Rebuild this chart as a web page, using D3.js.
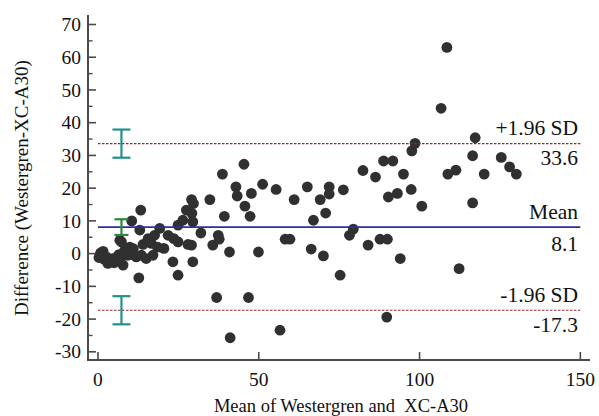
<!DOCTYPE html>
<html>
<head>
<meta charset="utf-8">
<script src="https://cdn.jsdelivr.net/npm/d3@7"></script>
<style>
  html, body { margin: 0; padding: 0; background: #fff; }
  svg { display: block; }
  text { font-family: "Liberation Serif", "Times New Roman", serif; fill: #111; }
</style>
</head>
<body>
<svg id="chart" width="599" height="416"></svg>
<script>
// ---- data ----
const meanValues = [0.8,1.6,1.0,2.6,3.1,3.5,4.1,5.0,5.7,6.5,7.3,7.8,8.3,9.3,9.9,7.3,6.8,10.9,11.9,13.5,15.0,17.1,12.7,10.5,13.3,13.0,14.0,15.6,16.6,17.6,19.2,20.5,21.8,23.3,23.6,24.9,24.9,24.9,26.4,27.5,28.0,29.1,29.7,29.2,29.5,29.5,29.1,32.0,34.8,35.7,36.9,37.4,37.7,38.7,39.3,40.9,41.1,42.9,43.3,45.4,45.7,46.8,47.3,47.7,49.9,51.2,55.4,56.6,58.2,59.7,61.0,65.1,66.3,67.0,69.1,70.1,70.8,71.9,71.9,75.3,76.3,78.2,79.4,82.4,84.0,86.3,87.7,88.8,89.8,90.0,90.3,91.7,93.1,94.0,95.0,97.4,97.6,98.6,100.7,106.7,108.5,108.8,111.3,112.3,116.5,116.5,117.3,120.1,125.4,128.0,130.1,2.0,4.5,0.3,11.0,18.5];
const diffValues = [0.2,0.7,-0.5,-1.0,-3.0,-2.5,-2.0,-2.8,-1.3,-0.3,-1.0,-3.5,1.0,-0.5,2.0,3.6,4.1,-0.3,-1.0,-0.5,-1.5,-0.5,-7.4,10.0,13.3,7.2,2.8,4.6,3.1,5.6,7.7,1.6,5.6,-2.5,4.6,3.6,-6.6,8.7,10.2,13.3,2.8,16.5,15.3,12.3,9.7,-2.5,2.6,6.3,16.5,2.6,-13.4,5.6,4.4,24.3,11.4,0.5,-25.7,20.4,17.6,27.3,14.5,-13.4,11.4,18.4,0.5,21.2,19.6,-23.4,4.4,4.4,16.5,20.4,1.4,10.2,16.5,-0.7,12.4,20.4,18.2,-6.6,19.5,5.6,7.5,25.4,2.6,23.4,4.4,28.3,-19.4,4.4,17.3,28.3,18.4,-1.5,24.3,19.6,31.4,33.7,14.5,44.4,63.0,24.3,25.5,-4.6,29.9,15.5,35.4,24.3,29.4,26.5,24.3,-1.8,-1.5,-1.2,1.5,2.0];

const meanDiff = 8.1;
const upperLoA = 33.6;
const lowerLoA = -17.3;
const ciX = 7.3;
const upperCI = [29.3, 37.9];
const meanCI = [5.7, 10.5];
const lowerCI = [-21.6, -13.0];

const xTicks = [0, 50, 100, 150];
const yTicks = [-30, -20, -10, 0, 10, 20, 30, 40, 50, 60, 70];
const yMinorTicks = [-25, -15, -5, 5, 15, 25, 35, 45, 55, 65];

const xTitle = "Mean of Westergren and  XC-A30";
const yTitle = "Difference (Westergren-XC-A30)";

// ---- layout ----
const svg = d3.select("#chart");
const x = d3.scaleLinear().domain([-3.1, 153]).range([88, 590]);
const y = d3.scaleLinear().domain([-32.5, 72.9]).range([360, 15]);
const axisColor = "#4a4a4a";

// axes lines
svg.append("line").attr("x1", 88).attr("x2", 88).attr("y1", y.range()[1]).attr("y2", 361)
  .attr("stroke", axisColor).attr("stroke-width", 2);
svg.append("line").attr("x1", 87).attr("x2", x.range()[1]).attr("y1", 360).attr("y2", 360)
  .attr("stroke", axisColor).attr("stroke-width", 2);

// y ticks (inward)
svg.selectAll(".ytick").data(yTicks).join("line")
  .attr("x1", 88).attr("x2", 96).attr("y1", d => y(d)).attr("y2", d => y(d))
  .attr("stroke", axisColor).attr("stroke-width", 1.6);
svg.selectAll(".yminor").data(yMinorTicks).join("line")
  .attr("x1", 88).attr("x2", 92.5).attr("y1", d => y(d)).attr("y2", d => y(d))
  .attr("stroke", axisColor).attr("stroke-width", 1.4);
svg.selectAll(".ylab").data(yTicks).join("text")
  .attr("x", 81).attr("y", d => y(d)).attr("dy", "0.34em")
  .attr("text-anchor", "end").attr("font-size", 19.5).text(d => d);

// x ticks (inward)
svg.selectAll(".xtick").data(xTicks).join("line")
  .attr("x1", d => x(d)).attr("x2", d => x(d)).attr("y1", 360).attr("y2", 352)
  .attr("stroke", axisColor).attr("stroke-width", 1.6);
svg.selectAll(".xlab").data(xTicks).join("text")
  .attr("x", d => x(d)).attr("y", 386)
  .attr("text-anchor", "middle").attr("font-size", 19.5).text(d => d);

// titles
svg.append("text").attr("x", 341).attr("y", 412).attr("text-anchor", "middle")
  .attr("font-size", 18.5).style("white-space", "pre").text(xTitle);
svg.append("text").attr("transform", "translate(28,188) rotate(-90)")
  .attr("text-anchor", "middle").attr("font-size", 19).text(yTitle);

// points
svg.selectAll(".pt").data(meanValues.map((m, i) => [m, diffValues[i]])).join("circle")
  .attr("cx", d => x(d[0])).attr("cy", d => y(d[1])).attr("r", 5.4)
  .attr("fill", "#303030");

// reference lines
const lineColor = "#8e2a2a";
[upperLoA, lowerLoA].forEach(v => {
  svg.append("line").attr("x1", x(0)).attr("x2", x(150)).attr("y1", y(v)).attr("y2", y(v))
    .attr("stroke", lineColor).attr("stroke-width", 1.2).attr("stroke-dasharray", "2.5,1.5");
});
svg.append("line").attr("x1", x(0)).attr("x2", x(150)).attr("y1", y(meanDiff)).attr("y2", y(meanDiff))
  .attr("stroke", "#2e2e9e").attr("stroke-width", 1.6);

// labels
const labels = [
  { t: "+1.96 SD", v: upperLoA, off: -8.5 },
  { t: upperLoA.toFixed(1), v: upperLoA, off: 21 },
  { t: "Mean", v: meanDiff, off: -8.5 },
  { t: meanDiff.toFixed(1), v: meanDiff, off: 23.5 },
  { t: "-1.96 SD", v: lowerLoA, off: -8.5 },
  { t: lowerLoA.toFixed(1), v: lowerLoA, off: 21.5 }
];
svg.selectAll(".lab").data(labels).join("text")
  .attr("x", 578).attr("y", d => y(d.v) + d.off)
  .attr("text-anchor", "end").attr("font-size", 21.5).text(d => d.t);

// CI error bars
const bars = [
  { r: upperCI, c: "#23908c", hw: 9 },
  { r: meanCI, c: "#2a8a3a", hw: 7 },
  { r: lowerCI, c: "#23908c", hw: 9 }
];
bars.forEach(b => {
  const cx = x(ciX);
  const g = svg.append("g").attr("stroke", b.c).attr("stroke-width", 2.2);
  g.append("line").attr("x1", cx).attr("x2", cx).attr("y1", y(b.r[0])).attr("y2", y(b.r[1]));
  g.append("line").attr("x1", cx - b.hw).attr("x2", cx + b.hw).attr("y1", y(b.r[0])).attr("y2", y(b.r[0]));
  g.append("line").attr("x1", cx - b.hw).attr("x2", cx + b.hw).attr("y1", y(b.r[1])).attr("y2", y(b.r[1]));
});
</script>
</body>
</html>
